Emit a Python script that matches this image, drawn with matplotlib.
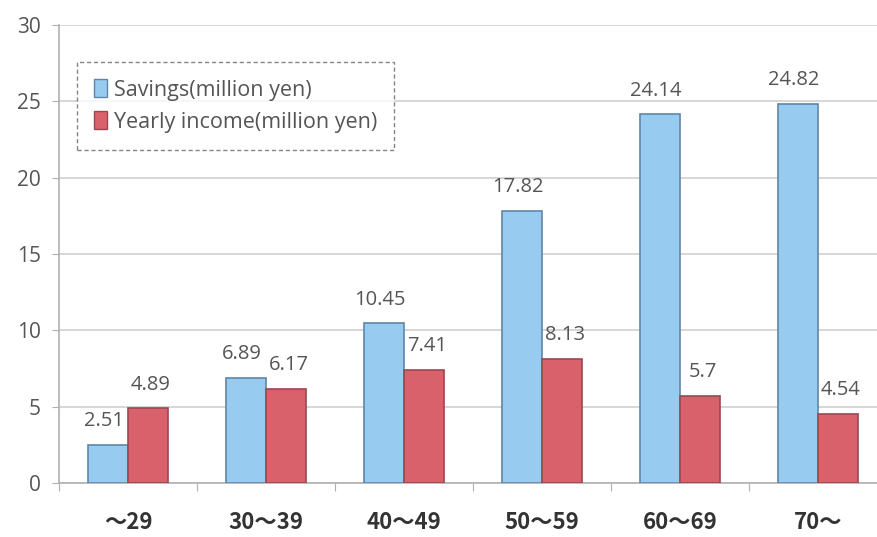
import numpy as np
import matplotlib.pyplot as plt
from matplotlib.patches import Patch

plt.rcParams['font.family'] = ['Open Sans', 'Noto Sans CJK JP', 'DejaVu Sans']

# data
ages = ['～29', '30～39', '40～49', '50～59', '60～69', '70～']
savings = [2.51, 6.89, 10.45, 17.82, 24.14, 24.82]
income = [4.89, 6.17, 7.41, 8.13, 5.7, 4.54]
savings_lbl = ['2.51', '6.89', '10.45', '17.82', '24.14', '24.82']
income_lbl = ['4.89', '6.17', '7.41', '8.13', '5.7', '4.54']

blue, blue_edge = '#98cbf0', '#5f86a8'
red, red_edge = '#d9616c', '#9c4652'
txt = '#555555'

fig = plt.figure(figsize=(8.77, 5.37), dpi=100)
ax = fig.add_axes([59/877, (537-483)/537, 828/877, (483-25)/537])

x = np.arange(len(ages))
w = 0.29
ax.bar(x - w/2, savings, w, color=blue, edgecolor=blue_edge, linewidth=1.2, zorder=3)
ax.bar(x + w/2, income, w, color=red, edgecolor=red_edge, linewidth=1.2, zorder=3)

# value labels
for i in range(len(ages)):
    ax.text(x[i] - w/2 - 0.03, savings[i] + 0.9, savings_lbl[i], ha='center', va='bottom',
            fontsize=14.5, color=txt, family=['Open Sans', 'DejaVu Sans'])
    ax.text(x[i] + w/2 + 0.02, income[i] + 0.9, income_lbl[i], ha='center', va='bottom',
            fontsize=14.5, color=txt, family=['Open Sans', 'DejaVu Sans'])

ax.set_xlim(-0.5, len(ages) - 0.5)
ax.set_ylim(0, 30)
ax.set_yticks(range(0, 31, 5))
ax.yaxis.grid(True, color='#d0d0d0', linewidth=1.2, zorder=0)
ax.set_xticks(np.arange(-0.5, len(ages), 1))
ax.set_xticklabels([])
ax.tick_params(axis='x', length=6, color='#b0b0b0', direction='out')
ax.tick_params(axis='y', length=5, color='#b0b0b0', labelsize=15, labelcolor=txt, pad=8)
for i, a in enumerate(ages):
    ax.text(x[i], -2.6, a, ha='center', va='center', fontsize=16, fontweight='bold',
            color='#333333', family=['Noto Sans CJK JP', 'DejaVu Sans'])

for s in ['top', 'right']:
    ax.spines[s].set_visible(False)
for s in ['left', 'bottom']:
    ax.spines[s].set_color('#b0b0b0')
    ax.spines[s].set_linewidth(1.2)

handles = [Patch(facecolor=blue, edgecolor=blue_edge), Patch(facecolor=red, edgecolor=red_edge)]
leg = ax.legend(handles, ['Savings(million yen)', 'Yearly income(million yen)'],
                loc='upper left', bbox_to_anchor=(18/828, (483-62)/458),
                fontsize=15.5, frameon=True, fancybox=False, handlelength=0.6,
                handleheight=0.9, handletextpad=0.3, borderpad=0.8, labelspacing=0.5,
                borderaxespad=0)
for t in leg.get_texts():
    t.set_color(txt)
fr = leg.get_frame()
fr.set_edgecolor('#666666')
fr.set_linestyle((0, (3, 2)))
fr.set_linewidth(1)
leg.set_zorder(5)

fig.savefig('out.png', dpi=100)
